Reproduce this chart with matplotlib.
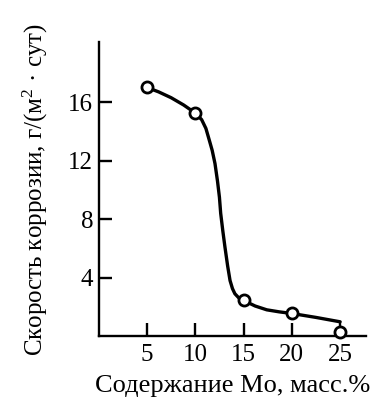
import matplotlib
matplotlib.use("Agg")
import matplotlib.pyplot as plt

# measured data points
mo_content = [5, 10, 15, 20, 25]
corrosion_rate = [17.0, 15.25, 2.47, 1.55, 0.3]

# smooth fitted curve
curve_x = [5, 6.2, 7.5, 8.8, 10, 10.66, 11.1, 11.45, 11.75, 12.04, 12.3, 12.5, 12.63, 12.85, 13.07, 13.35, 13.6, 13.85, 14.1, 14.5, 15, 15.6, 16.2, 17.4, 18.7, 20, 22.5, 25]
curve_y = [17.0, 16.7, 16.3, 15.8, 15.25, 14.8, 14.2, 13.4, 12.7, 11.8, 10.6, 9.5, 8.4, 7.2, 6.1, 4.8, 3.8, 3.25, 2.9, 2.62, 2.47, 2.25, 2.06, 1.8, 1.66, 1.55, 1.28, 0.98]

x_ticks = [5, 10, 15, 20, 25]
y_ticks = [4, 8, 12, 16]

plt.rcParams['font.family'] = ['Liberation Serif', 'DejaVu Serif']
plt.rcParams['mathtext.fontset'] = 'custom'
plt.rcParams['mathtext.rm'] = 'Liberation Serif'
plt.rcParams['mathtext.it'] = 'Liberation Serif'

fig = plt.figure(figsize=(3.84, 4.05), dpi=100)
ax = fig.add_axes([0.257, 0.170, 0.696, 0.726])

ax.plot(curve_x, curve_y, color='black', lw=2.4, solid_capstyle='round', solid_joinstyle='round', zorder=2)
ax.plot(mo_content, corrosion_rate, linestyle='none', marker='o', ms=8, mfc='white',
        mec='black', mew=2.0, zorder=3, clip_on=False)

ax.set_xlim(0, 27.67)
ax.set_ylim(0, 20.1)
ax.set_xticks(x_ticks)
ax.set_yticks(y_ticks)
ax.set_xticklabels([str(v) for v in x_ticks])
ax.set_yticklabels([str(v) for v in y_ticks])

for s in ['top', 'right']:
    ax.spines[s].set_visible(False)
for s in ['left', 'bottom']:
    ax.spines[s].set_linewidth(1.7)

ax.tick_params(direction='in', length=9.5, width=1.7, labelsize=18)
ax.tick_params(axis='x', pad=6)
ax.tick_params(axis='y', pad=4)

ax.set_xlabel('Содержание Mo, масс.%', fontsize=19, labelpad=6)
ax.set_ylabel('Скорость коррозии, г/(м$^{2}$ · сут)', fontsize=18, labelpad=13)

fig.savefig('out.png', dpi=100)
